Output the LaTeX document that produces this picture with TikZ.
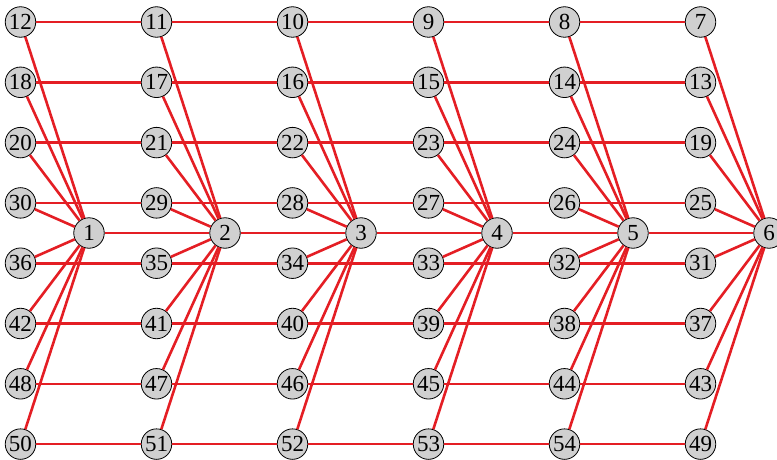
\documentclass[tikz,border=0pt]{standalone}
\usepackage{fontspec}
\setmainfont{Liberation Serif}
\definecolor{edgered}{RGB}{228,30,36}
\definecolor{vfill}{RGB}{208,208,208}
\tikzset{
  vtx/.style={circle,draw=black,line width=0.8pt,fill=vfill,minimum size=30.5pt,inner sep=0pt,font=\fontsize{23}{23}\selectfont},
  edge/.style={edgered,line width=2.6pt}
}

\begin{document}
\begin{tikzpicture}[x=1pt,y=1pt]
\useasboundingbox (0,0) rectangle (777,-460);
% hubs along the middle
\foreach \h in {1,...,6}
  \node[vtx] (\h) at ({89+136*(\h-1)},-233) {\h};
% the six columns of outer vertices
\foreach \c/\lst in {1/{12,18,20,30,36,42,48,50},2/{11,17,21,29,35,41,47,51},3/{10,16,22,28,34,40,46,52},4/{9,15,23,27,33,39,45,53},5/{8,14,24,26,32,38,44,54},6/{7,13,19,25,31,37,43,49}}
{
  \foreach \n [count=\r] in \lst
  {
    \node[vtx,alias=p\c-\r] (\n) at ({20.5+136*(\c-1)},{-22-60.3*(\r-1)}) {\n};
    \draw[edge] (\c) -- (\n);
  }
}
% rows
\foreach \c in {1,...,5}
{
  \pgfmathtruncatemacro\d{\c+1}
  \draw[edge] (\c) -- (\d);
  \foreach \r in {1,...,8}
    \draw[edge] (p\c-\r) -- (p\d-\r);
}
\end{tikzpicture}
\end{document}
